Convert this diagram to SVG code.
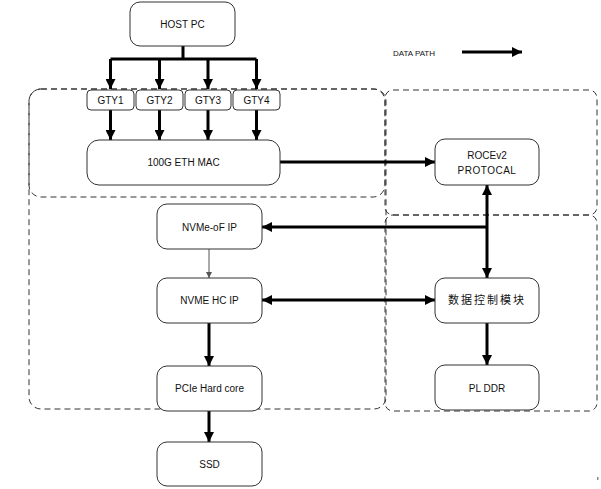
<svg xmlns="http://www.w3.org/2000/svg" width="601" height="489" viewBox="0 0 601 489">
<style>
.node rect{fill:#fff;stroke:#333;stroke-width:1}
.region{fill:none;stroke:#333;stroke-width:1;stroke-dasharray:6 4}
text{font-family:"Liberation Sans",Arial,sans-serif;font-size:10px;fill:#111;text-anchor:middle;dominant-baseline:central}
.thick{stroke:#000;stroke-width:3;fill:none}
.thin{stroke:#555;stroke-width:1;fill:none}
</style>
<defs>
<marker id="ah" viewBox="0 0 10 10" refX="10" refY="5" markerWidth="10" markerHeight="10" markerUnits="userSpaceOnUse" orient="auto-start-reverse"><path d="M0,0 L10,5 L0,10 Z" fill="#000"/></marker>
<marker id="ahs" viewBox="0 0 10 10" refX="10" refY="5" markerWidth="6" markerHeight="6" markerUnits="userSpaceOnUse" orient="auto"><path d="M0,0 L10,5 L0,10 Z" fill="#555"/></marker>
</defs>
<rect width="601" height="489" fill="#fff"/>
<g id="regions">
<rect class="region" x="29" y="89" width="357" height="320" rx="12"/>
<rect class="region" x="29" y="89" width="356" height="108" rx="12"/>
<rect class="region" x="385" y="90" width="212" height="125" rx="8"/>
<rect class="region" x="385" y="215" width="212" height="196" rx="8"/>
</g>
<g id="connectors">
<path class="thick" d="M183,46 V59 M110.5,59 H256.5"/>
<path class="thick" marker-end="url(#ah)" d="M110.5,59 V89"/>
<path class="thick" marker-end="url(#ah)" d="M159.5,59 V89"/>
<path class="thick" marker-end="url(#ah)" d="M208,59 V89"/>
<path class="thick" marker-end="url(#ah)" d="M256.5,59 V89"/>
<path class="thick" marker-end="url(#ah)" d="M110.5,110 V140"/>
<path class="thick" marker-end="url(#ah)" d="M159.5,110 V140"/>
<path class="thick" marker-end="url(#ah)" d="M208,110 V140"/>
<path class="thick" marker-end="url(#ah)" d="M256.5,110 V140"/>
<path class="thick" marker-end="url(#ah)" d="M280,162 H435"/>
<path class="thick" marker-start="url(#ah)" marker-end="url(#ah)" d="M487,185 V278"/>
<path class="thick" marker-end="url(#ah)" d="M487,227 H262"/>
<path class="thin" marker-end="url(#ahs)" d="M209,249 V278"/>
<path class="thick" marker-start="url(#ah)" marker-end="url(#ah)" d="M262,300 H435"/>
<path class="thick" marker-end="url(#ah)" d="M209,323 V366"/>
<path class="thick" marker-end="url(#ah)" d="M209,411 V442"/>
<path class="thick" marker-end="url(#ah)" d="M487,323 V365"/>
<path class="thick" marker-end="url(#ah)" d="M462,52 H522"/>
</g>
<g id="legend"><text x="414" y="53" style="font-size:8px">DATA PATH</text></g>
<g id="host" class="node"><rect x="130" y="2" width="105" height="44" rx="10"/><text x="182.5" y="24">HOST PC</text></g>
<g id="gty1" class="node"><rect x="87" y="90" width="47" height="20" rx="4"/><text x="110.5" y="100">GTY1</text></g>
<g id="gty2" class="node"><rect x="136" y="90" width="47" height="20" rx="4"/><text x="159.5" y="100">GTY2</text></g>
<g id="gty3" class="node"><rect x="185" y="90" width="46" height="20" rx="4"/><text x="208" y="100">GTY3</text></g>
<g id="gty4" class="node"><rect x="233" y="90" width="47" height="20" rx="4"/><text x="256.5" y="100">GTY4</text></g>
<g id="mac" class="node"><rect x="87" y="140" width="193" height="45" rx="12"/><text x="183.5" y="162">100G ETH MAC</text></g>
<g id="roce" class="node"><rect x="435" y="139" width="104" height="46" rx="10"/><text x="487" y="155">ROCEv2</text><text x="487" y="170" style="letter-spacing:0.5px">PROTOCAL</text></g>
<g id="nvmeof" class="node"><rect x="157" y="204" width="105" height="45" rx="10"/><text x="209.5" y="227">NVMe-oF IP</text></g>
<g id="nvmehc" class="node"><rect x="157" y="278" width="105" height="45" rx="10"/><text x="209.5" y="300">NVME HC IP</text></g>
<g id="datactrl" class="node"><rect x="435" y="278" width="104" height="45" rx="10"/><text x="487" y="300" style="font-family:'Liberation Sans','Noto Sans CJK SC',sans-serif;font-size:11px;letter-spacing:2px">数据控制模块</text></g>
<g id="pcie" class="node"><rect x="157" y="366" width="105" height="45" rx="10"/><text x="209.5" y="388">PCIe Hard core</text></g>
<g id="plddr" class="node"><rect x="435" y="365" width="104" height="45" rx="10"/><text x="487" y="388">PL DDR</text></g>
<g id="ssd" class="node"><rect x="157" y="442" width="105" height="44" rx="10"/><text x="209.5" y="464">SSD</text></g>
<rect x="597" y="477" width="1.5" height="3" fill="#888"/>
</svg>
